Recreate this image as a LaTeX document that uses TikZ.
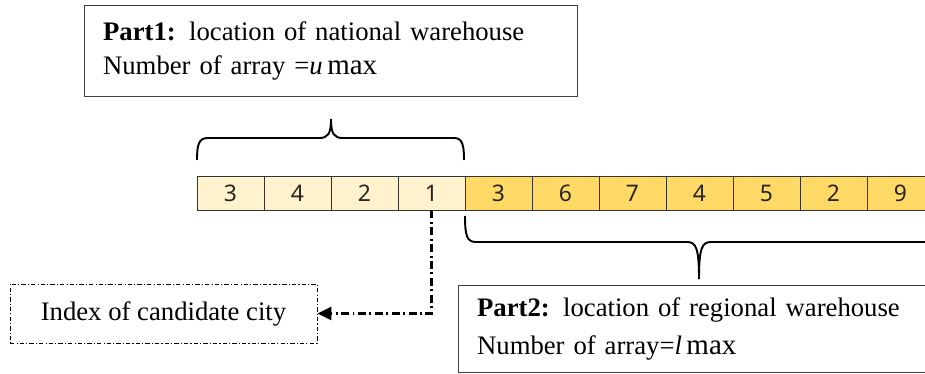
\documentclass[tikz,border=0pt]{standalone}
\usepackage{fontspec}
\setmainfont{Liberation Serif}
\newfontfamily\cellfont{Noto Sans}
\usetikzlibrary{arrows.meta}

\definecolor{cellpale}{HTML}{FFF2CC}
\definecolor{cellgold}{HTML}{FFD966}
\definecolor{boxline}{HTML}{404040}

\tikzset{
	cell/.style = {draw = black!80, line width = 0.5pt, minimum width = 1.34cm, minimum height = 0.68cm, inner sep = 0pt, font = \cellfont\fontsize{13}{15}\selectfont, text = black!85},
	partbox/.style = {draw = boxline, line width = 0.7pt, align = left, anchor = north west, inner xsep = 0.37cm, inner ysep = 0pt, font = \fontsize{15.2}{19}\selectfont},
	dashdot/.style = {dash pattern = on 4.5pt off 2pt on 1.1pt off 2pt},
	bracket/.style = {black, line width = 1.1pt}
}

\begin{document}
\begin{tikzpicture}[x = 0.02cm, y = -0.02cm]
	\useasboundingbox (0, 0) rectangle (925, 374);
	\clip (0, 0) rectangle (925, 374);

	% the coded array
	\foreach \val [count = \i] in {3, 4, 2, 1, 3, 6, 7, 4, 5, 2, 9} {
		\ifnum\i<5
			\node [cell, fill = cellpale] (c\i) at ({197 + 67*(\i - 1) + 33.5}, 193) {\val};
		\else
			\node [cell, fill = cellgold] (c\i) at ({197 + 67*(\i - 1) + 33.5}, 193) {\val};
		\fi
	}

	\node [partbox, text width = 9.12cm, minimum height = 1.82cm] (part1) at (84, 5)
		{\textbf{Part1:} location of national warehouse\\Number of array =\textit{u}\,{\fontsize{16.5}{19}\selectfont max}};
	\node [partbox, text width = 9.26cm, minimum height = 1.74cm, font = \fontsize{15.2}{21.5}\selectfont] (part2) at (458, 285)
		{\textbf{Part2:} location of regional warehouse\\Number of array=\textit{l}\,{\fontsize{16.5}{19}\selectfont max}};
	\node [draw, line width = 0.5pt, dash pattern = on 2.5pt off 1.2pt on 0.6pt off 1.2pt, minimum width = 6.14cm, minimum height = 1.18cm, font = \fontsize{15.2}{17}\selectfont] (index) at (163.5, 313.5) {Index of candidate city};

	% braces over and under the two parts
	\draw [bracket] (197, 160) .. controls (197, 144) and (199, 138) .. (208, 138) -- (319, 138)
		.. controls (328, 138) and (331, 134) .. (331, 119) .. controls (331, 134) and (334, 138) .. (343, 138)
		-- (454, 138) .. controls (462, 138) and (464, 144) .. (464, 160);
	\draw [bracket] (465, 216) .. controls (465, 236) and (467, 242) .. (476, 242) -- (687, 242)
		.. controls (696, 242) and (699, 248) .. (699, 279) .. controls (699, 248) and (702, 242) .. (711, 242)
		-- (940, 242);

	\draw [dashdot, line width = 1.2pt, -{Triangle[length = 8pt, width = 7.5pt]}] (c4.south) |- (index.east);
\end{tikzpicture}
\end{document}
